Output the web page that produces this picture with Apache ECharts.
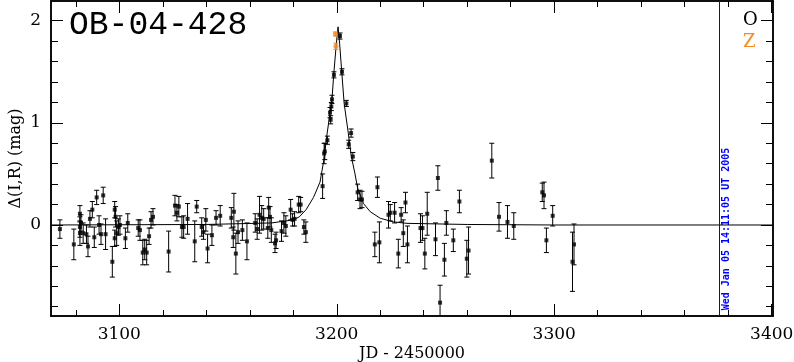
<!DOCTYPE html>
<html>
<head>
<meta charset="utf-8">
<script src="https://cdn.jsdelivr.net/npm/echarts@6/dist/echarts.min.js"></script>
<style>
  html, body { margin: 0; padding: 0; background: #fff; }
  #chart { width: 794px; height: 362px; }
</style>
</head>
<body>
<div id="chart"></div>
<script>
// ---- data ----
const eventName = 'OB-04-428';
const xRange = [3068.6, 3400.6];
const yRange = [-0.891, 2.193];
const xMajorTicks = [3100, 3200, 3300, 3400];
const xMinorTicks = [3080, 3120, 3140, 3160, 3180, 3220, 3240, 3260, 3280, 3320, 3340, 3360, 3380, 3400];
const yMajorTicks = [0, 1, 2];
const yMinorTicks = [-0.8, -0.6, -0.4, -0.2, 0.2, 0.4, 0.6, 0.8, 1.2, 1.4, 1.6, 1.8];

// [JD-2450000, delta mag, error]
const ogleData = [
  [3072.7, -0.04, 0.09], [3079.1, -0.19, 0.15], [3081.9, 0.11, 0.08], [3081.9, -0.02, 0.10],
  [3082.4, 0.02, 0.08], [3081.9, -0.08, 0.12], [3083.4, -0.08, 0.10], [3084.9, -0.09, 0.09],
  [3085.6, -0.21, 0.10], [3086.5, 0.06, 0.08], [3087.6, 0.15, 0.08], [3088.5, -0.12, 0.10],
  [3089.6, 0.27, 0.07], [3090.7, 0.00, 0.09], [3091.6, -0.09, 0.10], [3092.6, 0.29, 0.08],
  [3093.7, -0.09, 0.15], [3096.8, -0.36, 0.15], [3097.9, 0.15, 0.08], [3097.9, -0.13, 0.08],
  [3098.3, 0.08, 0.10], [3098.8, -0.08, 0.12], [3099.6, -0.02, 0.08], [3100.3, 0.00, 0.09],
  [3102.8, -0.13, 0.10], [3103.9, 0.02, 0.09], [3108.7, -0.03, 0.08], [3109.5, -0.05, 0.10],
  [3110.8, -0.27, 0.12], [3111.7, -0.24, 0.10], [3112.6, -0.27, 0.12], [3113.7, -0.11, 0.08],
  [3114.6, 0.05, 0.08], [3115.5, 0.08, 0.08], [3122.7, -0.26, 0.20], [3125.6, 0.19, 0.10],
  [3126.5, 0.12, 0.08], [3127.4, 0.18, 0.10], [3128.8, -0.02, 0.10], [3129.6, -0.02, 0.11],
  [3131.4, 0.06, 0.15], [3134.7, -0.16, 0.20], [3135.6, 0.18, 0.06], [3137.9, -0.02, 0.09],
  [3138.7, -0.07, 0.07], [3139.8, 0.05, 0.11], [3140.6, -0.23, 0.14], [3142.6, -0.10, 0.10],
  [3144.5, 0.07, 0.07], [3146.4, 0.09, 0.10], [3151.5, 0.07, 0.10], [3152.7, 0.13, 0.18],
  [3152.4, -0.12, 0.10], [3153.6, -0.28, 0.20], [3154.6, -0.07, 0.11], [3156.6, -0.05, 0.10],
  [3158.7, -0.16, 0.18], [3162.5, 0.02, 0.09], [3163.4, -0.04, 0.10], [3164.5, 0.10, 0.18],
  [3165.5, 0.07, 0.12], [3166.4, 0.06, 0.10], [3168.3, -0.03, 0.10], [3168.7, 0.17, 0.10],
  [3169.3, 0.08, 0.10], [3169.9, -0.05, 0.12], [3171.6, -0.18, 0.09], [3172.1, -0.15, 0.08],
  [3174.6, -0.06, 0.10], [3175.7, 0.02, 0.10], [3176.6, -0.01, 0.10], [3178.8, 0.15, 0.10],
  [3179.7, 0.05, 0.06], [3180.6, 0.06, 0.07], [3182.5, 0.20, 0.08], [3183.4, 0.20, 0.07],
  [3184.9, -0.02, 0.07], [3185.8, -0.07, 0.10],
  [3193.5, 0.38, 0.12], [3194.2, 0.70, 0.10], [3194.5, 0.72, 0.08], [3195.7, 0.83, 0.04],
  [3196.9, 1.10, 0.05], [3197.2, 1.03, 0.04], [3197.5, 1.16, 0.04], [3197.8, 1.23, 0.04],
  [3198.7, 1.47, 0.03], [3201.5, 1.85, 0.03], [3202.4, 1.50, 0.03], [3204.4, 1.19, 0.03],
  [3205.5, 0.79, 0.04], [3206.6, 0.90, 0.04], [3207.4, 0.67, 0.04], [3209.6, 0.32, 0.08],
  [3210.7, 0.25, 0.09], [3211.6, 0.25, 0.08], [3217.5, -0.19, 0.12], [3218.7, 0.37, 0.10],
  [3219.6, -0.17, 0.20], [3223.8, 0.10, 0.13], [3224.6, 0.12, 0.08], [3226.6, 0.12, 0.10],
  [3228.3, -0.28, 0.14], [3229.6, 0.10, 0.07], [3230.6, -0.08, 0.13], [3231.6, 0.22, 0.10],
  [3232.5, -0.19, 0.18], [3238.5, -0.03, 0.14], [3239.4, -0.03, 0.12], [3240.5, -0.28, 0.15],
  [3241.6, 0.11, 0.21], [3245.4, -0.14, 0.16], [3246.5, 0.46, 0.12], [3247.5, -0.76, 0.17],
  [3249.5, -0.34, 0.16], [3250.4, 0.02, 0.12], [3253.6, -0.15, 0.11], [3256.4, 0.23, 0.11],
  [3259.8, -0.33, 0.18], [3260.6, -0.25, 0.23], [3271.3, 0.63, 0.17], [3274.6, 0.08, 0.14],
  [3278.5, 0.03, 0.16], [3281.4, -0.01, 0.13], [3294.5, 0.32, 0.09], [3295.3, 0.29, 0.13],
  [3296.4, -0.15, 0.12], [3299.3, 0.09, 0.10], [3308.4, -0.36, 0.29], [3309.1, -0.19, 0.20]
];
const zData = [[3199.4, 1.87, 0.02], [3199.6, 1.75, 0.03]];

// model light curve
const modelCurve = [
  [3068.6, 0], [3140, 0.005], [3170, 0.02], [3180, 0.05], [3182.8, 0.08], [3185.9, 0.15],
  [3189.3, 0.27], [3192.3, 0.42], [3194.1, 0.64], [3195.6, 0.90], [3197.8, 1.23],
  [3198.6, 1.47], [3199.7, 1.75], [3200.6, 1.94], [3201.3, 1.78], [3202.3, 1.50],
  [3203.4, 1.19], [3205.3, 0.90], [3206.7, 0.67], [3208.3, 0.51], [3209.6, 0.36],
  [3212.3, 0.21], [3215.4, 0.13], [3220, 0.066], [3226.1, 0.03], [3232.3, 0.016],
  [3260, 0.005], [3300, 0], [3400.6, 0]
];

const stampJD = 3375.9;
const stampText = 'Wed Jan 05 14:11:05 UT 2005';

const black = '#000000';
const orange = '#f68b1f';
const blue = '#0000ff';
const labelFont = 'DejaVu Serif';

const chart = echarts.init(document.getElementById('chart'));

// one axis per tick length, per side
const mkAxis = (position, range, ticks, len, showLabels, extra) => ({
  type: 'value',
  position,
  min: range[0],
  max: range[1],
  axisLine: { show: true, onZero: false, lineStyle: { color: black, width: 1.5 } },
  axisTick: { show: true, inside: true, length: len, customValues: ticks, lineStyle: { color: black, width: 1 } },
  axisLabel: {
    show: showLabels,
    customValues: ticks,
    formatter: (v) => String(v),
    color: black,
    fontFamily: labelFont,
    fontSize: 17,
    margin: 10
  },
  splitLine: { show: false },
  ...extra
});

const errorBars = (color) => (params, api) => {
  const x = api.value(0), y = api.value(1), e = api.value(2);
  const top = api.coord([x, y + e]);
  const bot = api.coord([x, y - e]);
  const cap = 2.5;
  const st = { stroke: color, lineWidth: 1 };
  return {
    type: 'group',
    children: [
      { type: 'line', shape: { x1: top[0], y1: top[1], x2: bot[0], y2: bot[1] }, style: st },
      { type: 'line', shape: { x1: top[0] - cap, y1: top[1], x2: top[0] + cap, y2: top[1] }, style: st },
      { type: 'line', shape: { x1: bot[0] - cap, y1: bot[1], x2: bot[0] + cap, y2: bot[1] }, style: st }
    ]
  };
};

const option = {
  animation: false,
  backgroundColor: '#fff',
  title: {
    text: eventName,
    left: 69,
    top: 9,
    padding: 0,
    textStyle: { fontFamily: 'Liberation Mono', fontSize: 33, fontWeight: 'normal', color: black }
  },
  legend: {
    orient: 'vertical',
    left: 733,
    top: 6,
    icon: 'none',
    itemWidth: 0,
    itemHeight: 0,
    itemGap: 4,
    selectedMode: false,
    textStyle: { fontFamily: labelFont, fontSize: 18 },
    data: [
      { name: 'O', textStyle: { color: black } },
      { name: 'Z', textStyle: { color: orange } }
    ]
  },
  grid: { left: 51, right: 21, top: 1, bottom: 46, containLabel: false, outerBoundsMode: 'none' },
  xAxis: [
    mkAxis('bottom', xRange, xMajorTicks, 12, true, {
      name: 'JD - 2450000',
      nameLocation: 'middle',
      nameGap: 30,
      nameMoveOverlap: false,
      nameTextStyle: { fontFamily: labelFont, fontSize: 16, color: black }
    }),
    mkAxis('bottom', xRange, xMinorTicks, 6, false, {}),
    mkAxis('top', xRange, xMajorTicks, 12, false, {}),
    mkAxis('top', xRange, xMinorTicks, 6, false, {})
  ],
  yAxis: [
    mkAxis('left', yRange, yMajorTicks, 12, true, {
      name: 'Δ(I,R) (mag)',
      nameLocation: 'middle',
      nameGap: 27,
      nameMoveOverlap: false,
      nameTextStyle: { fontFamily: labelFont, fontSize: 16, color: black }
    }),
    mkAxis('left', yRange, yMinorTicks, 7, false, {}),
    mkAxis('right', yRange, yMajorTicks, 12, false, {}),
    mkAxis('right', yRange, yMinorTicks, 7, false, {})
  ],
  graphic: [
    {
      type: 'text',
      x: 726.5,
      y: 229,
      rotation: Math.PI / 2,
      style: {
        text: stampText,
        fill: blue,
        fontFamily: 'DejaVu Sans Mono',
        fontWeight: 'bold',
        fontSize: 10,
        align: 'center',
        verticalAlign: 'middle'
      }
    }
  ],
  series: [
    {
      name: 'model',
      type: 'line',
      data: modelCurve,
      showSymbol: false,
      smooth: false,
      lineStyle: { color: black, width: 1 },
      silent: true,
      z: 1,
      markLine: {
        silent: true,
        symbol: ['none', 'none'],
        label: { show: false },
        lineStyle: { color: blue, width: 1, type: 'solid' },
        data: [{ xAxis: stampJD }]
      }
    },
    {
      name: 'O-err',
      type: 'custom',
      renderItem: errorBars(black),
      data: ogleData,
      encode: { x: 0, y: 1 },
      clip: true,
      z: 2
    },
    {
      name: 'O',
      type: 'scatter',
      data: ogleData,
      symbol: 'rect',
      symbolSize: 4,
      itemStyle: { color: black },
      z: 3
    },
    {
      name: 'Z-err',
      type: 'custom',
      renderItem: errorBars(orange),
      data: zData,
      encode: { x: 0, y: 1 },
      clip: true,
      z: 2
    },
    {
      name: 'Z',
      type: 'scatter',
      data: zData,
      symbol: 'circle',
      symbolSize: 5,
      itemStyle: { color: orange },
      z: 4
    }
  ]
};

chart.setOption(option);
</script>
</body>
</html>
